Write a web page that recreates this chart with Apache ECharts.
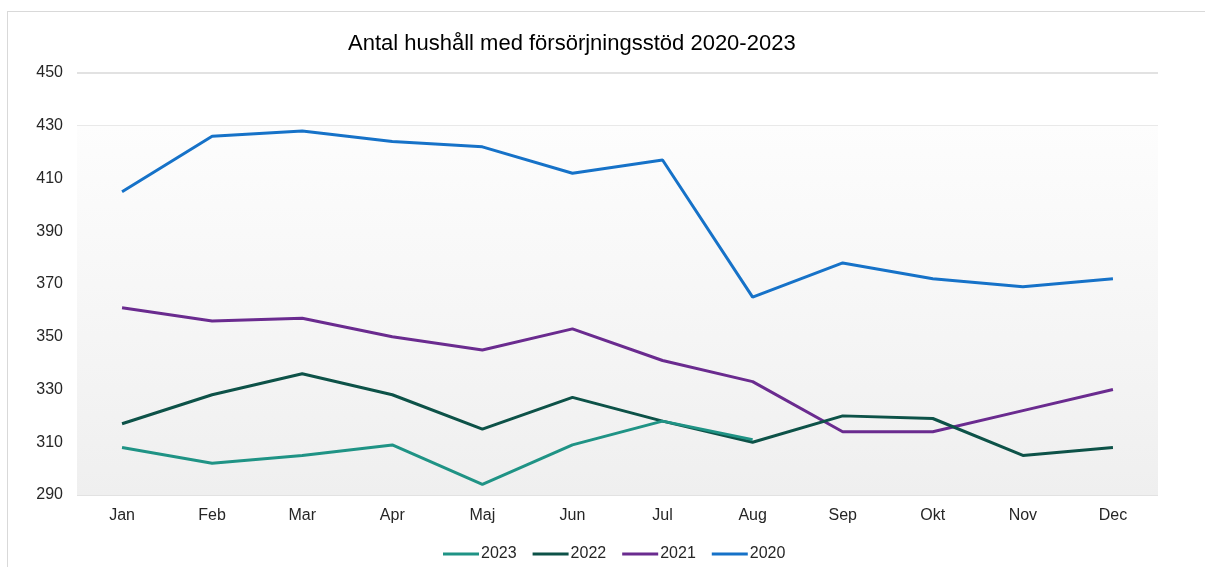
<!DOCTYPE html>
<html>
<head>
<meta charset="utf-8">
<script src="https://cdn.jsdelivr.net/npm/echarts@6/dist/echarts.min.js"></script>
<style>
  html, body { margin: 0; padding: 0; background: #ffffff; }
  #frame {
    position: absolute; left: 7px; top: 11px; width: 1210px; height: 570px;
    border-left: 1px solid #d9d9d9; border-top: 1px solid #d9d9d9;
    box-sizing: border-box; pointer-events: none;
  }
  #chart { position: absolute; left: 0; top: 0; width: 1205px; height: 567px; }
</style>
</head>
<body>
<div id="chart"></div>
<div id="frame"></div>
<script>
// Months (Swedish abbreviations)
const months = ['Jan', 'Feb', 'Mar', 'Apr', 'Maj', 'Jun', 'Jul', 'Aug', 'Sep', 'Okt', 'Nov', 'Dec'];

// Households receiving income support per month
const y2023 = [308, 302, 305, 309, 294, 309, 318, 311];
const y2022 = [317, 328, 336, 328, 315, 327, 318, 310, 320, 319, 305, 308];
const y2021 = [361, 356, 357, 350, 345, 353, 341, 333, 314, 314, 322, 330];
const y2020 = [405, 426, 428, 424, 422, 412, 417, 365, 378, 372, 369, 372];

const yMin = 290, yMax = 450, yStep = 20;
const shadeTop = 430; // shaded plot background starts here

const seriesDefs = [
  { name: '2023', data: y2023, color: '#1f9385' },
  { name: '2022', data: y2022, color: '#0d5248' },
  { name: '2021', data: y2021, color: '#6a2b8f' },
  { name: '2020', data: y2020, color: '#1672c8' }
];

const chart = echarts.init(document.getElementById('chart'), null, { renderer: 'canvas' });

const series = seriesDefs.map((s, i) => {
  const out = {
    name: s.name,
    type: 'line',
    data: s.data,
    showSymbol: false,
    symbol: 'none',
    lineStyle: { color: s.color, width: 3 },
    itemStyle: { color: s.color },
    z: 10 - i
  };
  if (i === 0) {
    out.markArea = {
      silent: true,
      z: 0,
      itemStyle: {
        color: new echarts.graphic.LinearGradient(0, 0, 0, 1, [
          { offset: 0, color: '#fdfdfd' },
          { offset: 1, color: '#efefef' }
        ])
      },
      data: [[{ yAxis: shadeTop }, { yAxis: yMin }]]
    };
  }
  return out;
});

const font = '"Liberation Sans", Arial, sans-serif';

chart.setOption({
  animation: false,
  backgroundColor: '#ffffff',
  textStyle: { fontFamily: font },
  title: {
    text: 'Antal hushåll med försörjningsstöd 2020-2023',
    left: 343,
    top: 28,
    textStyle: { fontSize: 22, fontWeight: 'normal', color: '#000000', fontFamily: font }
  },
  legend: {
    data: seriesDefs.map(s => s.name),
    top: 541,
    left: 438,
    icon: 'rect',
    itemWidth: 36,
    itemHeight: 3,
    itemGap: 16,
    textStyle: { fontSize: 16, color: '#262626', padding: [0, 0, 0, -3] }
  },
  grid: { left: 77, right: 47, top: 73, bottom: 72, containLabel: false },
  xAxis: {
    type: 'category',
    data: months,
    boundaryGap: true,
    axisLine: { show: false },
    axisTick: { show: false },
    axisLabel: { fontSize: 16, color: '#262626', margin: 13 }
  },
  yAxis: {
    type: 'value',
    min: yMin,
    max: yMax,
    interval: yStep,
    axisLine: { show: false },
    axisTick: { show: false },
    axisLabel: { fontSize: 16, color: '#262626', margin: 14 },
    splitLine: { lineStyle: { color: '#d9d9d9', width: 1.5 } }
  },
  series: series
});
</script>
</body>
</html>
